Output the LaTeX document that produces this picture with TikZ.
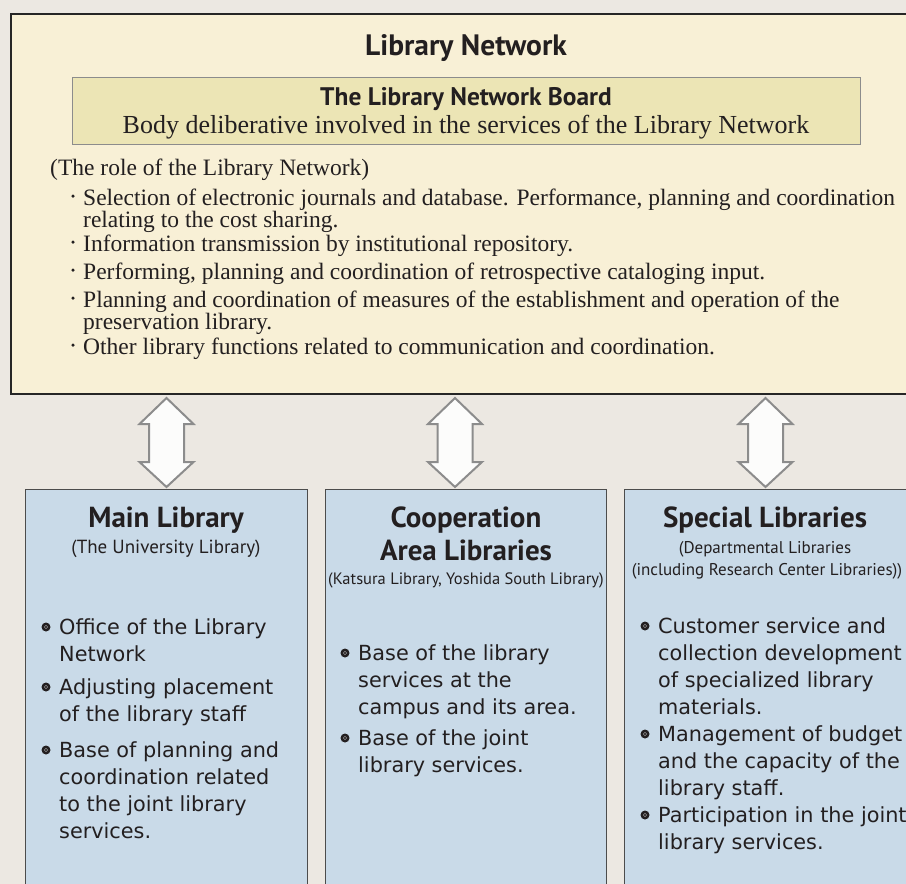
\documentclass[tikz,border=0pt]{standalone}
\usepackage{fontspec}
\setmainfont{Liberation Serif}
\newfontfamily\headfont{PT Sans}
\newfontfamily\itemfont{DejaVu Sans}
\usetikzlibrary{calc}
\definecolor{paper}{HTML}{ECE8E2}
\definecolor{cream}{HTML}{F8F0D6}
\definecolor{khaki}{HTML}{ECE5B5}
\definecolor{paleblue}{HTML}{C9DAE8}
\definecolor{ink}{HTML}{231F20}
\tikzstyle{netbox} = [rectangle, draw=black!85, line width=2pt, fill=cream, minimum width=915pt, minimum height=380pt, anchor=north west, inner sep=0pt]
\tikzstyle{boardbox} = [rectangle, draw=black!45, line width=1pt, fill=khaki, minimum width=788pt, minimum height=67pt, anchor=north west, inner sep=0pt]
\tikzstyle{libbox} = [rectangle, draw=black!70, line width=1pt, fill=paleblue, minimum width=282pt, minimum height=420pt, anchor=north west, inner sep=0pt]
\tikzstyle{head} = [font=\headfont\bfseries\fontsize{29}{31}\selectfont, text=ink, anchor=base, inner sep=0pt]
\tikzstyle{subhead} = [font=\headfont\fontsize{16.5}{18}\selectfont, text=ink, anchor=base, inner sep=0pt]
\tikzstyle{serifline} = [font=\fontsize{26}{28}\selectfont, text=ink, anchor=base, inner sep=0pt]
\tikzstyle{roletext} = [font=\fontsize{23.5}{20}\selectfont, text=ink, anchor=base west, inner sep=0pt]
\tikzstyle{roledot} = [circle, fill=ink, minimum size=3.5pt, inner sep=0pt]
\tikzstyle{itemtext} = [font=\itemfont\fontsize{20.8}{27}\selectfont, text=ink, anchor=base west, inner sep=0pt]
\tikzstyle{itemdot} = [circle, fill=ink, minimum size=9pt, inner sep=0pt, path picture={\draw[black!45, line width=0.6pt] (path picture bounding box.center) circle[radius=1.8pt];}]
\tikzstyle{twoway} = [draw=black!45, line width=2pt, fill=white!85!paper, line join=miter]

% lines stacked on the baseline of the first one
\newcommand{\lines}[1]{\begin{tabular}[t]{@{}l@{}}#1\end{tabular}}

% fat hollow double arrow from the bottom of #1 down to #2
\newcommand{\twoway}[2]{%
  \draw[twoway] let \p1=(#1.south), \p2=(#2) in
    (\x2,\y1-3pt) -- (\x2+27pt,\y1-29pt) -- (\x2+17.5pt,\y1-29pt) -- (\x2+17.5pt,\y2+27pt)
    -- (\x2+27pt,\y2+27pt) -- (\x2,\y2+2pt) -- (\x2-27pt,\y2+27pt) -- (\x2-17.5pt,\y2+27pt)
    -- (\x2-17.5pt,\y1-29pt) -- (\x2-27pt,\y1-29pt) -- cycle;}

\begin{document}
\begin{tikzpicture}[x=1pt, y=-1pt]
\useasboundingbox (0,0) rectangle (906,884);
\clip (0,0) rectangle (906,884);
\fill[paper] (0,0) rectangle (906,884);

% library network
\node at (10,13) (net) [netbox] {};
\node at (72,77) (board) [boardbox] {};
\node at (466,55) (netT) [head, font=\headfont\bfseries\fontsize{29.5}{32}\selectfont] {Library Network};
\node at (466,105) (boardT) [head, font=\headfont\bfseries\fontsize{25.4}{27}\selectfont] {The Library Network Board};
\node at (466,133) (boardS) [serifline] {Body deliberative involved in the services of the Library Network};
\node at (50,175) (role) [roletext] {(The role of the Library Network)};

\foreach \n/\y/\t in {
  1/205/{Selection of electronic journals and database. Performance, planning and coordination\\relating to the cost sharing.},
  2/251/{Information transmission by institutional repository.},
  3/279/{Performing, planning and coordination of retrospective cataloging input.},
  4/307/{Planning and coordination of measures of the establishment and operation of the\\preservation library.},
  5/354/{Other library functions related to communication and coordination.}}
{
  \node at (73,{\y-9}) (dot\n) [roledot] {};
  \node at (83,\y) (role\n) [roletext] {\lines{\t}};
}

% libraries
\node at (25,489) (main) [libbox] {};
\node at (325,489) (coop) [libbox, minimum width=281pt] {};
\node at (624,489) (special) [libbox, minimum width=284pt] {};
\coordinate (coopin) at ([xshift=-11pt]coop.north);
\coordinate (specialin) at ([xshift=-1pt]special.north);

\twoway{net}{main.north}
\twoway{net}{coopin}
\twoway{net}{specialin}

\node at (166,527) (mainT) [head] {Main Library};
\node at (166,553) (mainS) [subhead, font=\headfont\fontsize{19}{21}\selectfont] {(The University Library)};
\node at (466,527) (coopT) [head] {Cooperation};
\node at (466,560) (coopT2) [head] {Area Libraries};
\node at (466,584) (coopS) [subhead] {(Katsura Library, Yoshida South Library)};
\node at (765,527) (specialT) [head] {Special Libraries};
\node at (765,553) (specialS) [subhead, font=\headfont\fontsize{17}{19}\selectfont] {(Departmental Libraries};
\node at (767,575) (specialS2) [subhead, font=\headfont\fontsize{17}{19}\selectfont] {(including Research Center Libraries))};

\foreach \n/\x/\y/\t in {
  m1/46/634/{Office of the Library\\Network},
  m2/46/694/{Adjusting placement\\of the library staff},
  m3/46/757/{Base of planning and\\coordination related\\to the joint library\\services.},
  c1/345/660/{Base of the library\\services at the\\campus and its area.},
  c2/345/745/{Base of the joint\\library services.},
  s1/645/633/{Customer service and\\collection development\\of specialized library\\materials.},
  s2/645/741/{Management of budget\\and the capacity of the\\library staff.},
  s3/645/822/{Participation in the joint\\library services.}}
{
  \node at (\x,{\y-7}) (dot\n) [itemdot] {};
  \node at ({\x+13},\y) (item\n) [itemtext] {\lines{\t}};
}

\end{tikzpicture}
\end{document}
